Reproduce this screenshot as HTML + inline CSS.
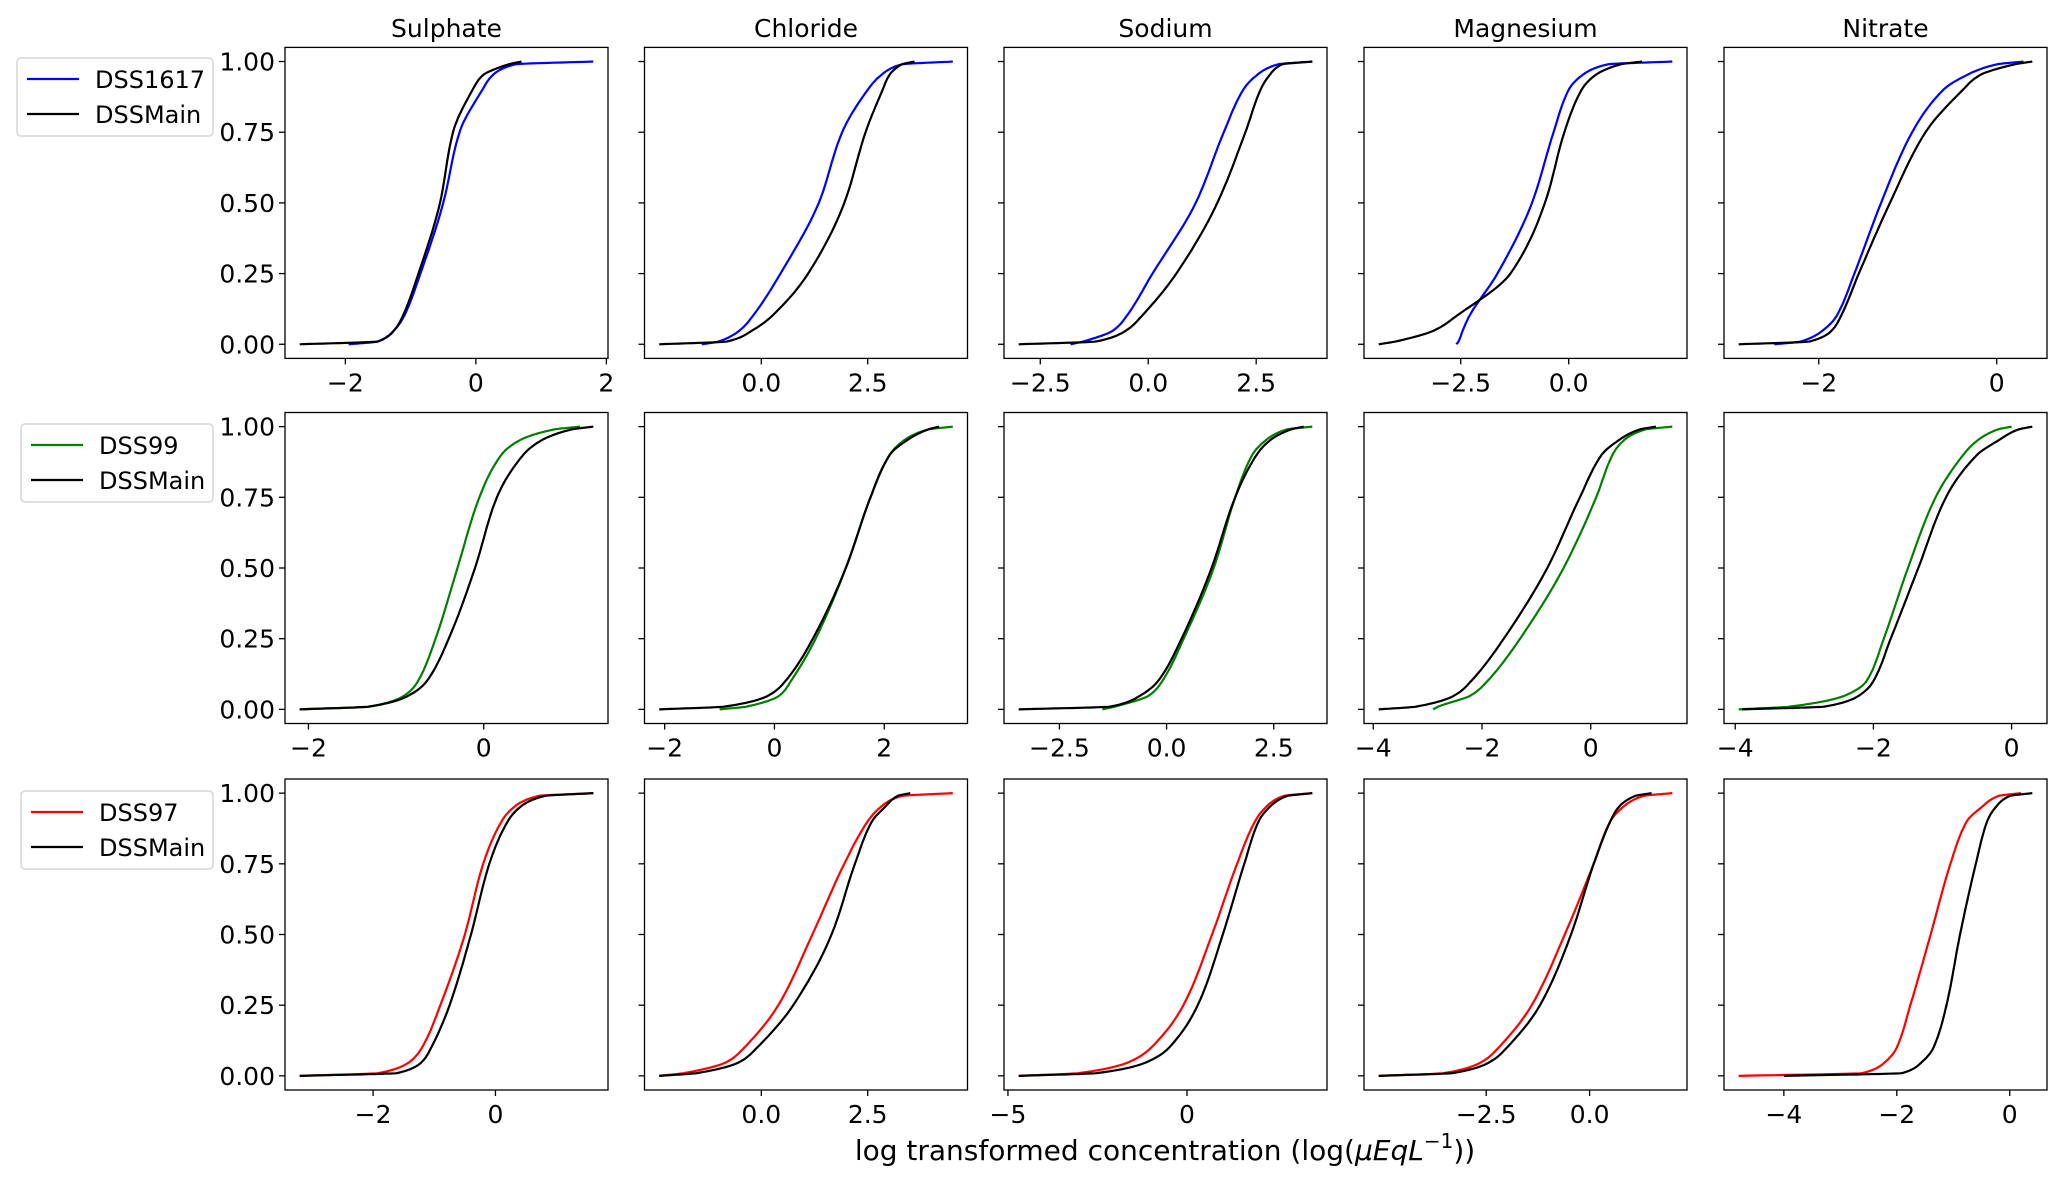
<!DOCTYPE html>
<html><head><meta charset="utf-8">
<style>
html,body{margin:0;padding:0;background:#fff;}
svg text{font-family:"DejaVu Sans","Liberation Sans",sans-serif;fill:#000;}
</style></head>
<body>
<svg id="chart" xmlns="http://www.w3.org/2000/svg" width="2067" height="1185" viewBox="0 0 2067 1185"></svg>
<script>
// CDF levels (y values) at which quantiles are read
const levels = [0, 0.01, 0.05, 0.1, 0.25, 0.5, 0.75, 0.9, 0.95, 0.99, 1];
const ions = ["Sulphate","Chloride","Sodium","Magnesium","Nitrate"];
const groupNames = ["DSS1617","DSS99","DSS97"];
const groupColors = ["#0000ff","#008000","#ff0000"];
const yTicks = [0, 0.25, 0.5, 0.75, 1.0];
const yTickLabels = ["0.00","0.25","0.50","0.75","1.00"];

// Row 1: DSS1617 vs DSSMain (quantiles per ion)
const r1Group = [
 [-1.95,-1.5,-1.25,-1.1,-0.85,-0.5,-0.25,0.1,0.25,0.6,1.8],
 [-1.4,-1.0,-0.5,-0.2,0.45,1.35,1.9,2.5,2.8,3.3,4.5],
 [-1.8,-1.5,-0.8,-0.5,0.1,1.1,1.75,2.2,2.5,3.0,3.8],
 [-2.6,-2.55,-2.45,-2.3,-1.65,-0.85,-0.35,0.0,0.3,0.9,2.4],
 [-2.5,-2.2,-1.95,-1.8,-1.6,-1.3,-0.95,-0.6,-0.35,0.0,0.3]];
const r1Main = [
 [-2.7,-1.5,-1.25,-1.12,-0.88,-0.55,-0.35,-0.05,0.1,0.5,0.7],
 [-2.4,-0.8,-0.2,0.25,1.1,1.95,2.45,2.85,3.0,3.3,3.6],
 [-3.0,-1.2,-0.5,-0.15,0.65,1.6,2.25,2.6,2.8,3.1,3.8],
 [-4.4,-4.0,-3.1,-2.6,-1.35,-0.55,-0.1,0.3,0.6,1.2,1.7],
 [-2.9,-2.1,-1.85,-1.75,-1.55,-1.2,-0.8,-0.38,-0.2,0.2,0.4]];
// Row 2: DSS99 vs DSSMain
const r2Group = [
 [-2.1,-1.3,-0.9,-0.75,-0.55,-0.3,-0.05,0.2,0.4,0.8,1.1],
 [-1.0,-0.5,0.1,0.3,0.75,1.3,1.75,2.1,2.35,2.8,3.25],
 [-1.5,-1.2,-0.4,-0.1,0.4,1.1,1.6,2.0,2.3,2.8,3.4],
 [-2.9,-2.8,-2.2,-1.9,-1.3,-0.5,0.1,0.4,0.6,1.0,1.5],
 [-3.95,-3.2,-2.4,-2.1,-1.85,-1.5,-1.1,-0.7,-0.5,-0.2,0.0]];
const r2Main = [
 [-2.1,-1.3,-0.85,-0.65,-0.4,-0.1,0.15,0.45,0.65,1.0,1.25],
 [-2.1,-0.9,-0.1,0.2,0.7,1.3,1.75,2.1,2.4,2.8,3.0],
 [-3.45,-1.3,-0.6,-0.2,0.35,1.05,1.6,2.1,2.4,2.9,3.2],
 [-3.9,-3.2,-2.5,-2.2,-1.6,-0.8,-0.2,0.2,0.5,0.9,1.2],
 [-3.9,-2.7,-2.2,-2.0,-1.75,-1.35,-0.95,-0.5,-0.2,0.1,0.3]];
// Row 3: DSS97 vs DSSMain
const r3Group = [
 [-3.2,-1.9,-1.4,-1.2,-0.9,-0.5,-0.2,0.1,0.3,0.7,1.6],
 [-2.4,-1.8,-0.8,-0.4,0.4,1.2,1.95,2.5,2.8,3.3,4.5],
 [-4.7,-3.0,-1.6,-1.0,-0.1,0.7,1.4,1.9,2.2,2.7,3.5],
 [-5.1,-3.5,-2.6,-2.2,-1.4,-0.6,0.1,0.5,0.8,1.3,2.0],
 [-4.8,-2.6,-2.2,-2.0,-1.76,-1.4,-1.05,-0.76,-0.5,-0.2,0.2]];
const r3Main = [
 [-3.2,-1.6,-1.2,-1.05,-0.75,-0.4,-0.1,0.2,0.4,0.8,1.6],
 [-2.4,-1.5,-0.5,-0.1,0.75,1.65,2.2,2.6,2.9,3.2,3.5],
 [-4.7,-2.5,-1.1,-0.5,0.3,1.0,1.6,2.0,2.3,2.8,3.5],
 [-5.1,-3.3,-2.4,-2.0,-1.2,-0.45,0.1,0.5,0.7,1.1,1.5],
 [-4.0,-1.9,-1.55,-1.35,-1.12,-0.88,-0.6,-0.4,-0.25,0.0,0.4]];

// x tick values per row/column
const xTicks = [
 [[-2,0,2],[0,2.5],[-2.5,0,2.5],[-2.5,0],[-2,0]],
 [[-2,0],[-2,0,2],[-2.5,0,2.5],[-4,-2,0],[-4,-2,0]],
 [[-2,0],[0,2.5],[-5,0],[-2.5,0],[-4,-2,0]]];

const groupData = [r1Group, r2Group, r3Group];
const mainData = [r1Main, r2Main, r3Main];

const NS = "http://www.w3.org/2000/svg";
const svg = document.getElementById("chart");
function mk(tag, attrs, parent){
  const e = document.createElementNS(NS, tag);
  for (const k in attrs) e.setAttribute(k, attrs[k]);
  (parent||svg).appendChild(e);
  return e;
}
const colLeft = [285, 644.5, 1004, 1364, 1724];
const rowTop = [47.4, 412.5, 779];
const W = 323, H = 311;

function fmt(v, ticks){
  const dec = ticks.some(t => Math.abs(t - Math.round(t)) > 1e-9);
  const s = dec ? Math.abs(v).toFixed(1) : String(Math.abs(Math.round(v)));
  return (v < -1e-9 ? "\u2212" : "") + s;
}
// monotone cubic interpolation of x(p)
function monotone(ps, xs, n){
  const m = ps.length, d = [], t = [];
  for (let i=0;i<m-1;i++) d.push((xs[i+1]-xs[i])/(ps[i+1]-ps[i]));
  t[0]=d[0]; t[m-1]=d[m-2];
  for (let i=1;i<m-1;i++){ t[i] = (d[i-1]*d[i] <= 0) ? 0 : 2/(1/d[i-1]+1/d[i]); }
  const out=[];
  for (let i=0;i<m-1;i++){
    const h = ps[i+1]-ps[i];
    for (let k=0;k<n;k++){
      const s=k/n, h00=2*s*s*s-3*s*s+1, h10=s*s*s-2*s*s+s, h01=-2*s*s*s+3*s*s, h11=s*s*s-s*s;
      out.push([ps[i]+s*h, h00*xs[i]+h10*h*t[i]+h01*xs[i+1]+h11*h*t[i+1]]);
    }
  }
  out.push([ps[m-1], xs[m-1]]);
  return out;
}

for (let r=0;r<3;r++){
  for (let c=0;c<5;c++){
    const g = groupData[r][c], mn = mainData[r][c];
    const lo = Math.min(g[0], mn[0]), hi = Math.max(g[g.length-1], mn[mn.length-1]);
    const pad = (hi-lo)*0.05, x0 = lo-pad, x1 = hi+pad;
    const L = colLeft[c], T = rowTop[r];
    const xs = v => L + (v - x0)/(x1 - x0)*W;
    const ys = v => T + H - (v + 0.05)/1.1*H;
    const ax = mk("g", {});
    
    
    const cp = "clip"+r+c;
    const cl = mk("clipPath", {id: cp}, ax);
    mk("rect", {x:L, y:T, width:W, height:H}, cl);
    [[g, groupColors[r], groupNames[r]], [mn, "#000000", "DSSMain"]].forEach(([arr,col,nm]) => {
      const pts = monotone(levels, arr, 12);
      const d = pts.map((p,i)=>(i?"L":"M")+xs(p[1]).toFixed(1)+","+ys(p[0]).toFixed(1)).join("");
      const path = mk("path", {d:d, fill:"none", stroke:col, "stroke-width":2.2, "clip-path":"url(#"+cp+")"}, ax);
      
      
    });
    const fr = mk("rect", {x:L, y:T, width:W, height:H, fill:"none", stroke:"#000", "stroke-width":1.3}, ax);
    
    
    yTicks.forEach((v,i)=>{
      mk("line", {x1:L-6, x2:L, y1:ys(v), y2:ys(v), stroke:"#000", "stroke-width":1.3}, ax);
      if (c===0){
        const t = mk("text", {x:L-10, y:ys(v)+9, "text-anchor":"end", "font-size":25}, ax);
        t.textContent = yTickLabels[i];
        
        
      }
    });
    const xt = xTicks[r][c];
    xt.forEach(v=>{
      const x = xs(v);
      mk("line", {x1:x, x2:x, y1:T+H, y2:T+H+6, stroke:"#000", "stroke-width":1.3}, ax);
      const t = mk("text", {x:x, y:T+H+33, "text-anchor":"middle", "font-size":25}, ax);
      t.textContent = fmt(v, xt);
      
      
    });
    if (r===0){
      const t = mk("text", {x:L+W/2, y:37, "text-anchor":"middle", "font-size":25}, ax);
      t.textContent = ions[c];
      
      
    }
  }
  const lg = mk("g", {});
  
  
  const bx = r===0 ? 17 : 21, by = [58, 424, 791][r];
  mk("rect", {x:bx, y:by, width:213-bx, height:78, rx:4, fill:"#fff", stroke:"#d6d6d6", "stroke-width":1.5}, lg);
  [[groupNames[r], groupColors[r]], ["DSSMain","#000"]].forEach(([nm,col],i)=>{
    const yy = by + 21 + i*35;
    mk("line", {x1:bx+10, x2:bx+62, y1:yy, y2:yy, stroke:col, "stroke-width":2.2}, lg);
    const t = mk("text", {x:bx+78, y:yy+9, "font-size":24}, lg);
    t.textContent = nm;
    
    
  });
}
const xl = mk("text", {x:1165, y:1160, "text-anchor":"middle", "font-size":28});


xl.innerHTML = 'log transformed concentration (log(<tspan font-style="italic">μEqL</tspan><tspan dy="-12" font-size="20">−1</tspan><tspan dy="12">))</tspan>';
</script>
</body></html>
